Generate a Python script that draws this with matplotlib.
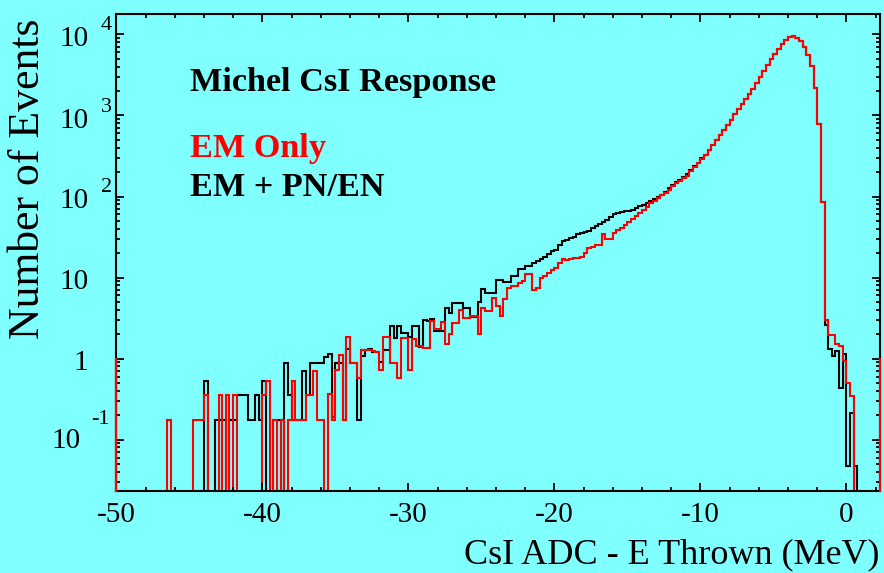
import numpy as np
import matplotlib
matplotlib.use("Agg")
import matplotlib.pyplot as plt
from matplotlib.ticker import LogLocator, MultipleLocator, NullFormatter

# ---------------- data ----------------
x_lo, bin_w, n_bins = -50.0, 0.25, 209
event_weight = 0.175          # weight of a single event

black_tail_units = [0,0,0,0,0,0,0,0,0,0, 0,0,0,0,0,0,0,0,0,0,
                    0,0,0,0,3,0,0,1,1,1, 0,1,1,2,2,2,1,1,2,1,
                    3,0,0,1,1,0,5,2,1,1, 1,4,2,5,5,5,5,6]
red_tail_units = [0,0,0,0,0,0,0,0,0,0, 0,0,0,0,1,0,0,0,0,0,
                  0,1,1,1,2,0,0,0,2,0, 2,0,2,0,0,0,0,0,0,0,
                  2,3,0,1,0,1,0,1,3,1, 1,1,2,2,4,1,1,0]

black_main = [1.14, 0.19, 0.885, 0.885, 0.175, 1.32, 0.89, 0.89, 0.175, 1.09, 1.28, 1.32, 1.2, 1.2, 0.9, 1.28, 1.28,
              2.55, 1.8, 2.55, 2.05, 2.05, 1.87, 2.5, 2.5, 1.39, 2.95, 2.9, 3.1, 2.2, 2.2, 2.2, 4.2, 3.7, 4.8, 4.8,
              4.8, 4.2, 4.2, 3.3, 3.3, 5.0, 7.2, 6.4, 6.4, 6.4, 9.3, 9.3, 8.9, 8.9, 10.5, 10.5, 12.6, 12.6, 13.8, 13.8,
              15, 15.8, 17, 18, 19.5, 21, 22, 25, 28, 29, 31, 32, 34, 35, 36, 38, 41, 43, 46, 48, 52, 56, 60, 63, 64,
              66, 67, 68, 72, 76, 79, 83, 88, 92, 98, 105, 115, 126, 138, 150, 162, 175, 190,
              212, 235, 262, 295, 325, 370, 430, 500, 575, 660, 760, 880, 1030, 1200, 1380, 1580, 1830, 2150, 2550,
              3000, 3550, 4250, 5000, 5800, 6650, 7530, 8500, 9370, 9600, 9150, 8200, 7050, 5650, 4040, 2180, 775, 86,
              2.6, 1.3, 1.09, 1.25, 0.43, 1.15, 0.047, 0.21, 0.047, 0, 0, 0, 0, 0, 0]
red_main = [0.37, 0.175, 0.73, 1.12, 0.175, 1.86, 0.88, 0.88, 0.57, 1.29, 1.29, 1.29, 1.25, 1.2, 0.73, 1.86, 1.86,
            0.88, 0.88, 0.57, 1.8, 1.8, 0.73, 1.73, 1.43, 1.43, 1.35, 1.35, 2.92, 2.3, 2.3, 2.85, 1.5, 1.99, 2.78,
            2.78, 3.95, 3.2, 3.2, 3.36, 3.36, 1.99, 4.26, 3.87, 3.87, 5.65, 4.47, 3.36, 5.4, 7.5, 7.9, 7.9,
            8.5, 9, 10.9, 10.9, 7.1, 7.5, 9.9, 10.5, 11.5, 12.5, 13, 15, 16.7, 16.5, 17, 17.5, 17.5, 18, 20, 23.2,
            23.5, 25, 25.5, 34, 29.5, 30, 35, 39, 41, 44, 48, 53, 57, 62, 69, 75, 82, 88, 95, 103, 112, 122, 133,
            145, 157, 168, 180,
            205, 230, 258, 292, 325, 370, 430, 500, 575, 660, 760, 880, 1030, 1200, 1380, 1580, 1830, 2150, 2550,
            3000, 3550, 4250, 5000, 5800, 6650, 7530, 8500, 9370, 9600, 9150, 8200, 7050, 5650, 4040, 2180, 775, 86,
            3.0, 1.98, 1.98, 1.53, 1.42, 0.93, 0.5, 0.34, 0, 0, 0, 0, 0, 0, 0]
edge_level = 1.0   # red frame-edge lines drawn by the original

x_ticks = [-50, -40, -30, -20, -10, 0]
y_decades = [-1, 0, 1, 2, 3, 4]

black = np.concatenate([np.array(black_tail_units) * event_weight, black_main])
red = np.concatenate([np.array(red_tail_units) * event_weight, red_main])
assert len(black) == n_bins and len(red) == n_bins
edges = x_lo + bin_w * np.arange(n_bins + 1)

# ---------------- figure ----------------
W, H = 884, 573
BG = "#80ffff"
SERIF = "Liberation Serif"
fig = plt.figure(figsize=(W / 100, H / 100), dpi=100)
fig.patch.set_facecolor(BG)

L, R, T, B = 116.3, 880.0, 14.0, 490.5
ax = fig.add_axes([L / W, 1 - B / H, (R - L) / W, (B - T) / H])
ax.set_facecolor(BG)
ax.set_yscale("log")
xmax = 2.3
ymin, ymax = 0.0235, 17900
ax.set_xlim(x_lo, xmax)
ax.set_ylim(ymin, ymax)

floor = ymin * 1e-3
ax.stairs(np.where(black > 0, black, floor), edges, color="black", lw=1.5, baseline=None)
ax.stairs(np.where(red > 0, red, floor), edges, color="red", lw=1.5, baseline=None)
ax.plot([x_lo, x_lo], [ymin, edge_level], color="red", lw=1.6, clip_on=False, zorder=4)
ax.plot([xmax, xmax], [ymin, edge_level], color="red", lw=1.6, clip_on=False, zorder=4)

for s in ax.spines.values():
    s.set_linewidth(1.5)
ax.xaxis.set_major_locator(MultipleLocator(10))
ax.xaxis.set_minor_locator(MultipleLocator(2))
ax.yaxis.set_major_locator(LogLocator(base=10, numticks=20))
ax.yaxis.set_minor_locator(LogLocator(base=10, subs=np.arange(2, 10), numticks=20))
ax.yaxis.set_minor_formatter(NullFormatter())
ax.tick_params(which="both", direction="in", top=True, right=True, width=1.3,
               labelleft=False, labelbottom=False)
ax.tick_params(which="major", length=5.5)
ax.tick_params(which="minor", length=3)


def px(x, y):
    return x / W, 1 - y / H


def ypix(v):
    return 358.5 - 81.0 * np.log10(v)


# y tick labels (ROOT style)
fs_lab = 21
for d in y_decades:
    yt = ypix(10.0 ** d)
    if d >= 2:
        fig.text(*px(88.5, yt + 12), "10", ha="right", va="baseline", fontsize=fs_lab, family=SERIF)
        fig.text(*px(101, yt - 4), str(d), ha="left", va="baseline", fontsize=16, family=SERIF)
    elif d == 1:
        fig.text(*px(88.5, yt + 12), "10", ha="right", va="baseline", fontsize=fs_lab, family=SERIF)
    elif d == 0:
        fig.text(*px(88.5, yt + 12), "1", ha="right", va="baseline", fontsize=fs_lab, family=SERIF)
    else:
        fig.text(*px(80.5, yt + 8), "10", ha="right", va="baseline", fontsize=fs_lab, family=SERIF)
        fig.text(*px(91, yt - 16), "-1", ha="left", va="baseline", fontsize=16, family=SERIF)

# x tick labels
for xt in x_ticks:
    xp = L + (xt - x_lo) / (xmax - x_lo) * (R - L)
    fig.text(*px(xp, 522), str(xt), ha="center", va="baseline", fontsize=fs_lab, family=SERIF)

fig.text(*px(880, 563), "CsI ADC - E Thrown (MeV)", ha="right", va="baseline", fontsize=26, family=SERIF)
fig.text(*px(28.5, 179), "Number of Events", ha="center", va="center", rotation=90,
         fontsize=31.5, family=SERIF)

fig.text(*px(190, 90.7), "Michel CsI Response", ha="left", va="baseline", fontsize=24.7,
         family=SERIF, weight="bold")
fig.text(*px(190, 156.7), "EM Only", ha="left", va="baseline", fontsize=24.7,
         family=SERIF, weight="bold", color="red")
fig.text(*px(190, 196), "EM + PN/EN", ha="left", va="baseline", fontsize=24.7,
         family=SERIF, weight="bold")

fig.savefig("out.png", dpi=100, facecolor=BG)
